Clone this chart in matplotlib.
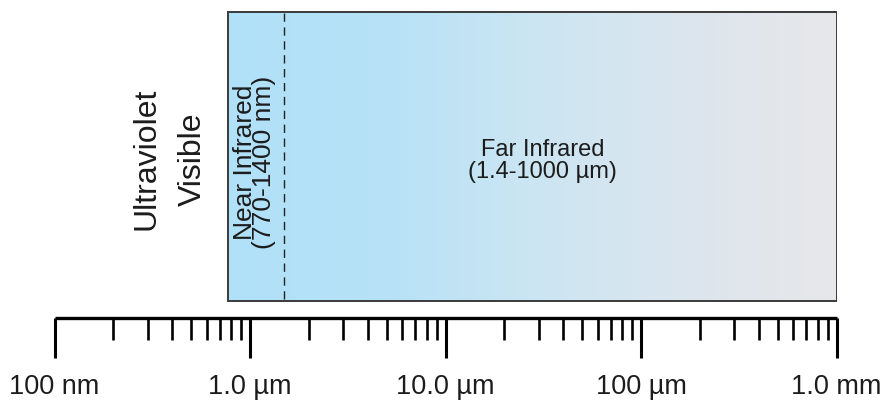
import matplotlib
matplotlib.use("Agg")
import matplotlib.pyplot as plt
import numpy as np
from matplotlib.colors import LinearSegmentedColormap
from matplotlib.ticker import FixedLocator, FixedFormatter

# wavelength in micrometres
major_ticks = [0.1, 1.0, 10.0, 100.0, 1000.0]
major_labels = ["100 nm", "1.0 µm", "10.0 µm", "100 µm", "1.0 mm"]
minor_ticks = [m * 10.0**k for k in range(-1, 3) for m in range(2, 10)]

ir_start = 0.77     # 770 nm
ir_end = 1000.0     # 1 mm
near_far_split = 1.5

grad_colors = ["#b0e1f8", "#b6e1f6", "#cbe5f2", "#dbe5ed", "#e7e7e9"]

font = ["Liberation Sans", "DejaVu Sans"]
txt_color = "#1c1c1c"

fig = plt.figure(figsize=(8.83, 4.08), dpi=100)
W, H = 883, 408
x0, x1 = 54.5, 836.5
ax = fig.add_axes([x0 / W, 1 - 318 / H, (x1 - x0) / W, 318 / H])
ax.set_xscale("log")
ax.set_xlim(0.1, 1000)
ax.set_ylim(318, 0)

for s in ["top", "left", "right"]:
    ax.spines[s].set_visible(False)
ax.spines["bottom"].set_linewidth(2.4)
ax.spines["bottom"].set_capstyle("butt")
ax.yaxis.set_visible(False)

ax.xaxis.set_major_locator(FixedLocator(major_ticks))
ax.xaxis.set_major_formatter(FixedFormatter(major_labels))
ax.xaxis.set_minor_locator(FixedLocator(minor_ticks))
ax.xaxis.set_minor_formatter(FixedFormatter([""] * len(minor_ticks)))
ax.tick_params(axis="x", which="major", direction="out", length=29, width=2.2,
               color="black", pad=11)
ax.tick_params(axis="x", which="minor", direction="out", length=15.5, width=1.9,
               color="black")
for lab in ax.get_xticklabels():
    lab.set_family(font)
    lab.set_fontsize(19.5)
    lab.set_color(txt_color)

# gradient box, colour follows position along the log axis
cmap = LinearSegmentedColormap.from_list("ir", grad_colors)
xe = np.logspace(np.log10(ir_start), np.log10(ir_end), 300)
frac = (np.log10(xe[:-1]) - np.log10(ir_start)) / (np.log10(ir_end) - np.log10(ir_start))
ax.pcolormesh(xe, [12, 301], frac.reshape(1, -1), cmap=cmap, vmin=0, vmax=1,
              shading="flat", zorder=1, antialiased=False, edgecolors="none")
ax.plot([ir_start, ir_end, ir_end, ir_start, ir_start], [12, 12, 301, 301, 12],
        color="#3a3a3a", lw=1.4, zorder=3, solid_joinstyle="miter")
ax.plot([near_far_split, near_far_split], [13, 300], color="#222222", lw=1.0,
        dashes=(6, 4), zorder=3)

ax.text(0.297, 159, "Ultraviolet", rotation=90, ha="center", va="center",
        fontsize=23, family=font, color=txt_color)
ax.text(0.511, 159, "Visible", rotation=90, ha="center", va="center",
        fontsize=23, family=font, color=txt_color)
ax.text(1.055, 162, "Near Infrared\n(770-1400 nm)", rotation=90, ha="center",
        va="center", fontsize=19, family=font, color=txt_color,
        linespacing=0.78, zorder=4)
ax.text(31.3, 161, "Far Infrared\n(1.4-1000 µm)", ha="center", va="center",
        fontsize=17, family=font, color=txt_color, linespacing=1.0, zorder=4)

fig.savefig("out.png", dpi=100)
